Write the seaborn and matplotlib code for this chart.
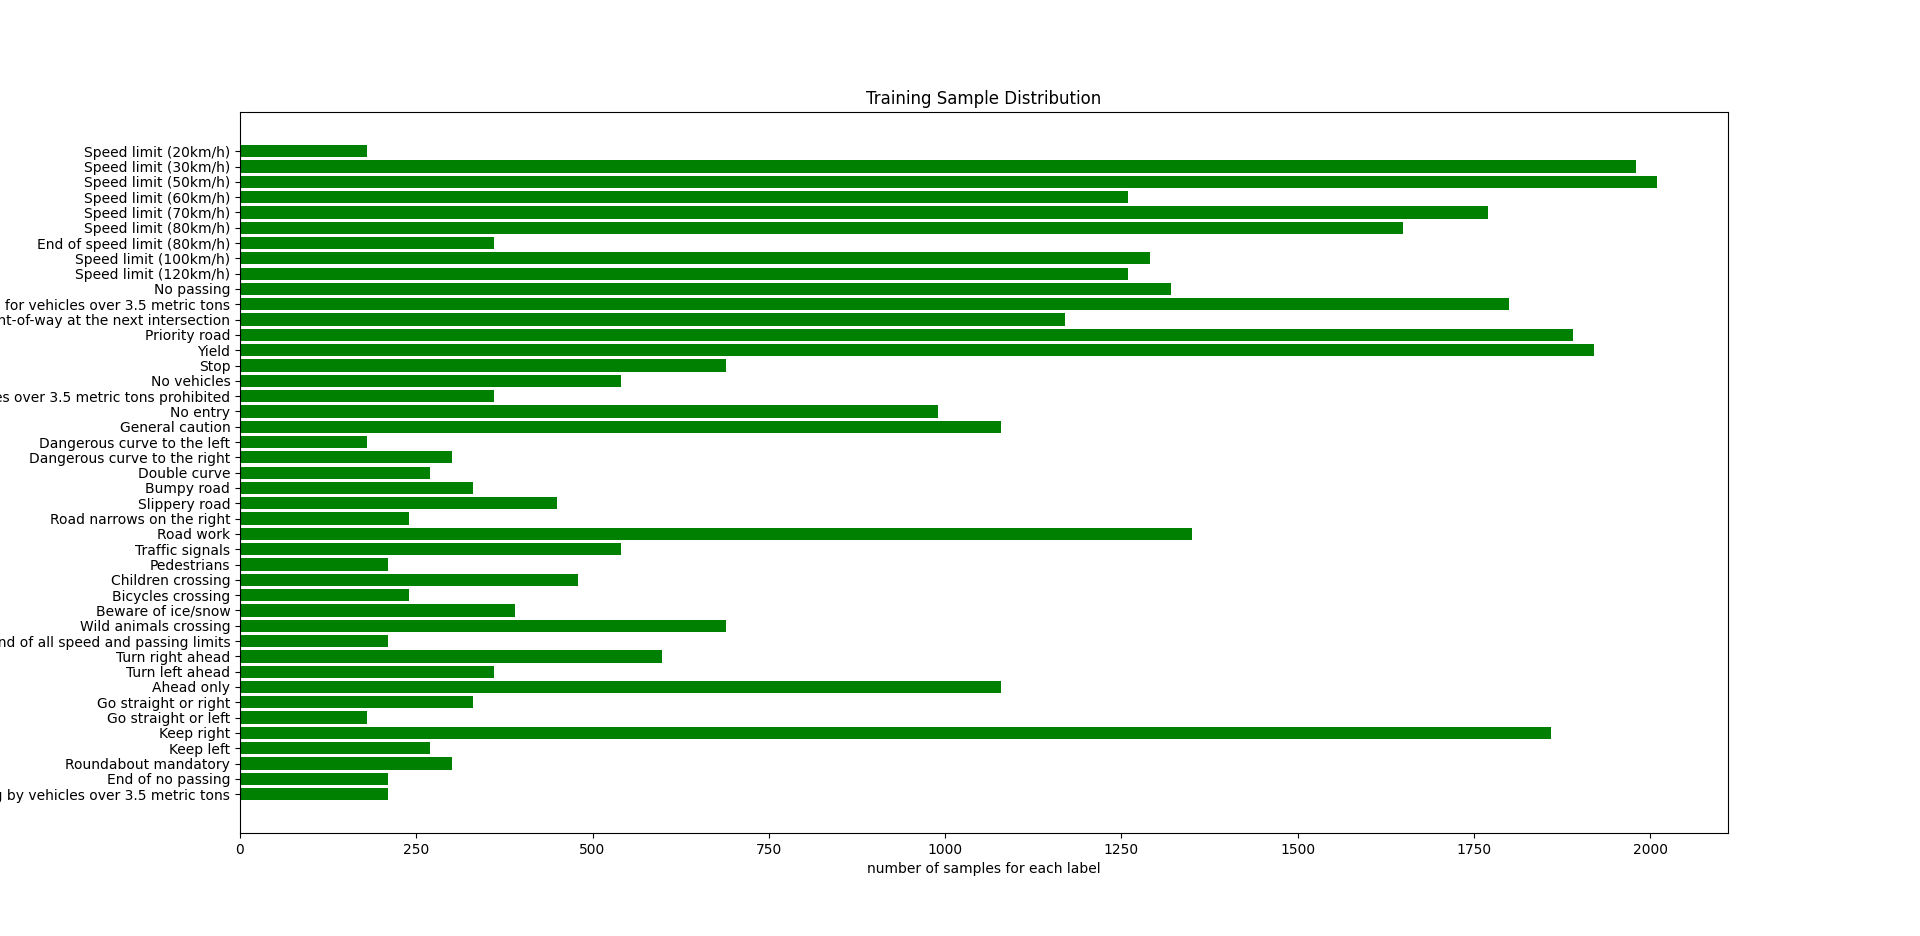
import numpy as np
import pandas as pd
import matplotlib
matplotlib.use("Agg")
import matplotlib.pyplot as plt
import seaborn as sns


sign_names = [
    "Speed limit (20km/h)", "Speed limit (30km/h)", "Speed limit (50km/h)",
    "Speed limit (60km/h)", "Speed limit (70km/h)", "Speed limit (80km/h)",
    "End of speed limit (80km/h)", "Speed limit (100km/h)", "Speed limit (120km/h)",
    "No passing", "No passing for vehicles over 3.5 metric tons",
    "Right-of-way at the next intersection", "Priority road", "Yield", "Stop",
    "No vehicles", "Vehicles over 3.5 metric tons prohibited", "No entry",
    "General caution", "Dangerous curve to the left", "Dangerous curve to the right",
    "Double curve", "Bumpy road", "Slippery road", "Road narrows on the right",
    "Road work", "Traffic signals", "Pedestrians", "Children crossing",
    "Bicycles crossing", "Beware of ice/snow", "Wild animals crossing",
    "End of all speed and passing limits", "Turn right ahead", "Turn left ahead",
    "Ahead only", "Go straight or right", "Go straight or left", "Keep right",
    "Keep left", "Roundabout mandatory", "End of no passing",
    "End of no passing by vehicles over 3.5 metric tons",
]

sample_counts = [
    180, 1980, 2010, 1260, 1770, 1650, 360, 1290, 1260, 1320, 1800,
    1170, 1890, 1920, 690, 540, 360, 990, 1080, 180, 300, 270, 330,
    450, 240, 1350, 540, 210, 480, 240, 390, 690, 210, 599, 360, 1080,
    330, 180, 1860, 270, 300, 210, 210,
]

df = pd.DataFrame({"label": sign_names, "count": sample_counts})

fig, ax = plt.subplots(figsize=(19.2, 9.36), dpi=100)

sns.barplot(data=df, x="count", y="label", color="green", saturation=1,
            width=0.8, orient="h", ax=ax)

# mimic plain matplotlib barh limits (5% margins)
n = len(sign_names)
span = (n - 1) + 0.8
ax.set_ylim(n - 1 + 0.4 + 0.05 * span, -0.4 - 0.05 * span)
ax.set_xlim(0, max(sample_counts) * 1.05)

ax.set_title("Training Sample Distribution")
ax.set_xlabel("number of samples for each label")
ax.set_ylabel("")

plt.savefig("out.png", dpi=100)
